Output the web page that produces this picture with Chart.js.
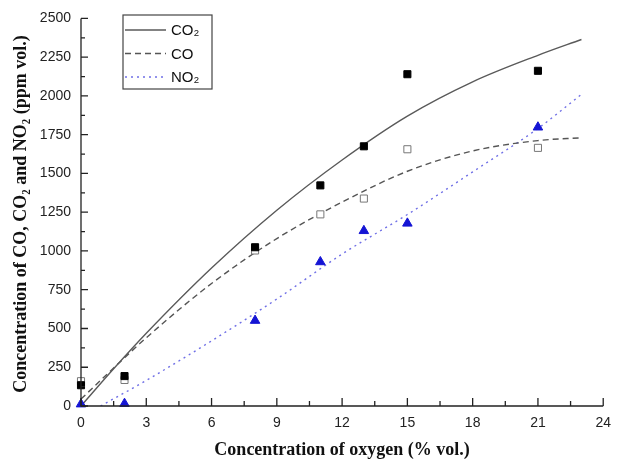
<!DOCTYPE html>
<html><head><meta charset="utf-8">
<script src="https://cdn.jsdelivr.net/npm/chart.js@4/dist/chart.umd.min.js"></script>
<style>html,body{margin:0;padding:0;background:#fff}#wrap{width:620px;height:464px}</style>
</head><body><div id="wrap"><canvas id="c" width="620" height="464"></canvas></div>
<script>
// Measured points
const oxygen = [0, 2, 8, 11, 13, 15, 21];
const co2Points = [134, 193, 1024, 1423, 1675, 2140, 2162];
const coPoints = [160, 168, 1003, 1236, 1338, 1656, 1665];
const no2Points = [12, 15, 551, 929, 1130, 1178, 1798];
// Fitted curves
const curveX = [0, 1.5, 3, 6, 9, 12, 15, 18, 21, 23];
const co2Curve = [0, 240, 469, 890, 1263, 1587, 1870, 2091, 2262, 2364];
const coCurve = [45, 245, 440, 790, 1080, 1315, 1514, 1645, 1712, 1730];
const no2CurveX = [0.9, 3, 6, 9, 12, 15, 18, 21, 23];
const no2Curve = [0, 165, 420, 690, 980, 1235, 1510, 1790, 2010];
const legendLabels = ['CO\u2082', 'CO', 'NO\u2082'];
const xTitle = 'Concentration of oxygen (% vol.)';
const yTitle = 'Concentration of CO, CO\u2082 and NO\u2082 (ppm vol.)';
const xTicksMajor = 3, yTicksMajor = 250;

const pts = (xs, ys) => xs.map((x, i) => ({x: x, y: ys[i]}));

const styles = {
  co2Line: {color: '#5a5a5a', dash: []},
  coLine: {color: '#555555', dash: [6, 4]},
  no2Line: {color: '#6f6fe6', dash: [2, 4]}
};
const titleFont = 'bold 18px "Liberation Serif", "Times New Roman", serif';

const inwardTicks = {
  id: 'inwardTicks',
  afterDraw(chart) {
    const ctx = chart.ctx;
    const xs = chart.scales.x, ys = chart.scales.y;
    const a = chart.chartArea;
    ctx.save();
    ctx.strokeStyle = '#222';
    ctx.lineWidth = 1.3;
    ctx.beginPath();
    ctx.moveTo(a.left, a.top); ctx.lineTo(a.left, a.bottom); ctx.lineTo(a.right, a.bottom);
    ctx.stroke();
    ctx.beginPath();
    for (let v = 0; v <= 24 + 1e-9; v += xTicksMajor / 2) {
      const px = xs.getPixelForValue(v);
      const major = Math.abs(v / xTicksMajor - Math.round(v / xTicksMajor)) < 1e-6;
      ctx.moveTo(px, a.bottom); ctx.lineTo(px, a.bottom - (major ? 8 : 5));
    }
    for (let v = 0; v <= 2500 + 1e-9; v += yTicksMajor / 2) {
      const py = ys.getPixelForValue(v);
      const major = Math.abs(v / yTicksMajor - Math.round(v / yTicksMajor)) < 1e-6;
      ctx.moveTo(a.left, py); ctx.lineTo(a.left + (major ? 7 : 4), py);
    }
    ctx.stroke();
    // y axis title
    ctx.save();
    ctx.translate(21, 214);
    ctx.rotate(-Math.PI / 2);
    ctx.font = titleFont;
    ctx.fillStyle = '#111';
    ctx.textAlign = 'center';
    ctx.textBaseline = 'middle';
    ctx.fillText(yTitle, 0, 0);
    ctx.restore();
    // legend box
    const bx = 123, by = 15, bw = 89, bh = 74;
    ctx.strokeStyle = '#444'; ctx.lineWidth = 1.2;
    ctx.strokeRect(bx, by, bw, bh);
    const keys = ['co2Line', 'coLine', 'no2Line'];
    ctx.font = '15px "Liberation Sans", Arial, sans-serif';
    ctx.textBaseline = 'middle';
    keys.forEach((k, i) => {
      const y = 30 + i * 23.5;
      ctx.strokeStyle = styles[k].color; ctx.lineWidth = 1.3;
      ctx.setLineDash(styles[k].dash);
      ctx.beginPath(); ctx.moveTo(125, y); ctx.lineTo(166, y); ctx.stroke();
      ctx.setLineDash([]);
      ctx.fillStyle = '#111';
      ctx.fillText(legendLabels[i], 171, y + 1);
    });
    ctx.restore();
  }
};

new Chart(document.getElementById('c'), {
  type: 'scatter',
  data: {
    datasets: [
      {label: 'CO2 data', data: pts(oxygen, co2Points), pointStyle: 'rect', pointRadius: 5, pointHoverRadius: 5,
       backgroundColor: '#000', borderColor: '#000', borderWidth: 1, clip: false},
      {label: 'CO data', data: pts(oxygen, coPoints), pointStyle: 'rect', pointRadius: 5, pointHoverRadius: 5,
       backgroundColor: '#fff', borderColor: '#777', borderWidth: 1, clip: false},
      {label: 'NO2 data', data: pts(oxygen, no2Points), pointStyle: 'triangle', pointRadius: 5.5, pointHoverRadius: 5.5,
       backgroundColor: '#1414d4', borderColor: '#1414d4', borderWidth: 1, clip: false},
      {label: legendLabels[0], data: pts(curveX, co2Curve), showLine: true, pointRadius: 0, cubicInterpolationMode: 'monotone',
       borderColor: styles.co2Line.color, borderWidth: 1.4, borderDash: styles.co2Line.dash, fill: false},
      {label: legendLabels[1], data: pts(curveX, coCurve), showLine: true, pointRadius: 0, cubicInterpolationMode: 'monotone',
       borderColor: styles.coLine.color, borderWidth: 1.4, borderDash: styles.coLine.dash, fill: false},
      {label: legendLabels[2], data: pts(no2CurveX, no2Curve), showLine: true, pointRadius: 0, cubicInterpolationMode: 'monotone',
       borderColor: styles.no2Line.color, borderWidth: 1.4, borderDash: styles.no2Line.dash, fill: false}
    ]
  },
  options: {
    responsive: false,
    animation: false,
    layout: {padding: {top: 13, right: 12, left: 0, bottom: 0}},
    plugins: {legend: {display: false}, tooltip: {enabled: false}},
    scales: {
      x: {
        type: 'linear', min: 0, max: 24,
        afterFit(s) { s.height = 58; },
        border: {display: false},
        grid: {display: false, drawTicks: false},
        ticks: {stepSize: xTicksMajor, padding: 9, color: '#222', font: {family: '"Liberation Sans", Arial, sans-serif', size: 14},
          callback: (v) => String(v)},
        title: {display: true, text: xTitle, color: '#111',
          font: {family: '"Liberation Serif", "Times New Roman", serif', size: 18, weight: 'bold'}, padding: {top: 0, bottom: 3}}
      },
      y: {
        type: 'linear', min: 0, max: 2500,
        afterFit(s) { s.width = 81; },
        border: {display: false},
        grid: {display: false, drawTicks: false},
        ticks: {stepSize: yTicksMajor, padding: 10, color: '#222', font: {family: '"Liberation Sans", Arial, sans-serif', size: 14},
          callback: (v) => String(v)},
        title: {display: false, text: yTitle}
      }
    }
  },
  plugins: [inwardTicks]
});
</script></body></html>
